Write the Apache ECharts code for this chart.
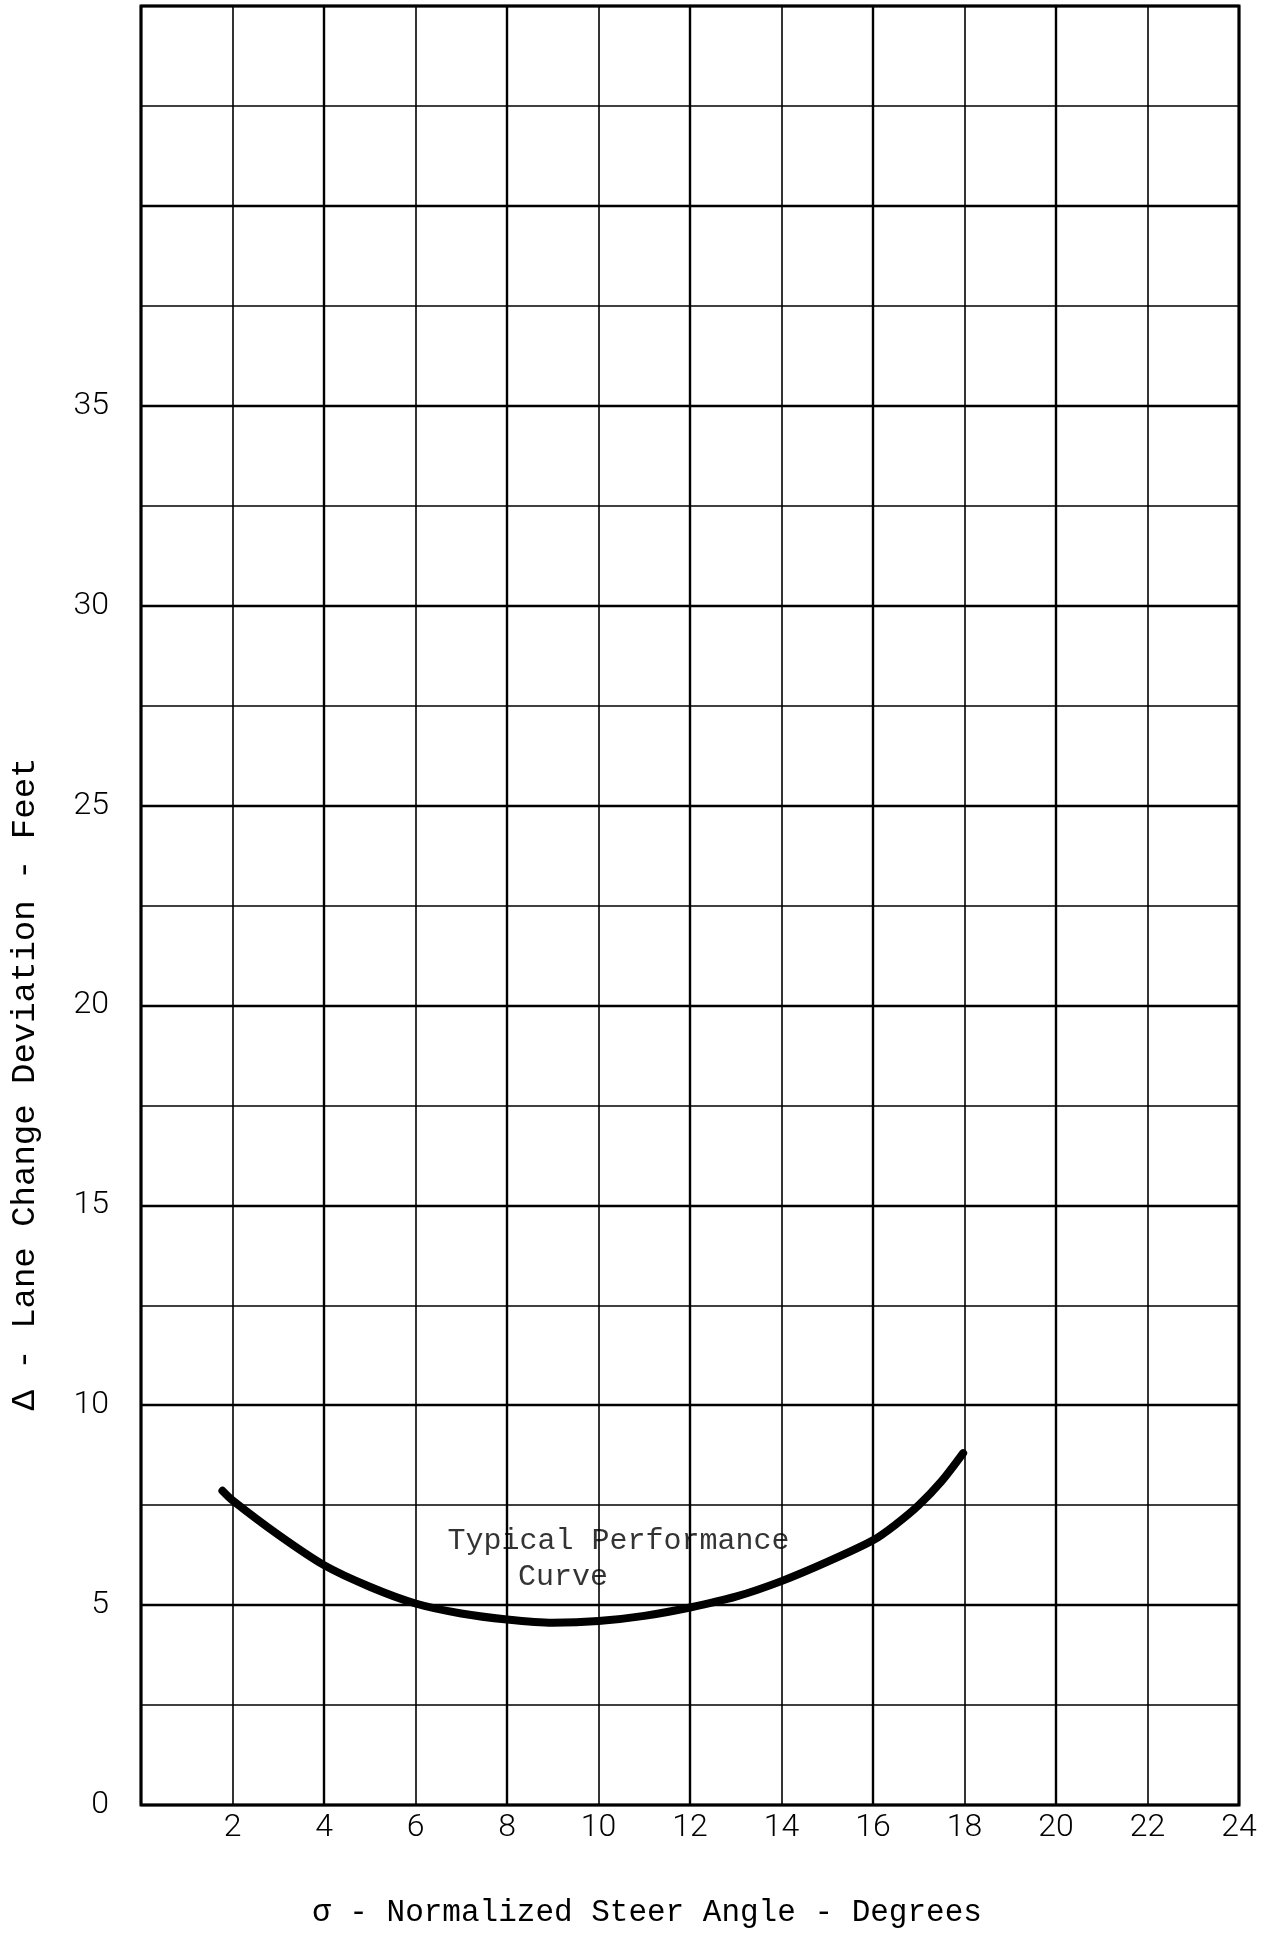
<!DOCTYPE html>
<html>
<head>
<meta charset="utf-8">
<script src="https://cdn.jsdelivr.net/npm/echarts@6/dist/echarts.min.js"></script>
<style>
html,body{margin:0;padding:0;background:#fff;}
#chart{width:1271px;height:1936px;}
</style>
</head>
<body>
<div id="chart"></div>
<script>
// Data
const sigma = [1.78, 2, 3, 4, 5, 6, 7, 8, 9, 10, 11, 12, 13, 14, 15, 16, 16.5, 17, 17.5, 17.97];
const delta = [7.86, 7.62, 6.76, 6.00, 5.46, 5.04, 4.79, 4.64, 4.56, 4.60, 4.73, 4.94, 5.21, 5.60, 6.08, 6.62, 7.02, 7.50, 8.10, 8.80];
const xTicks = [2, 4, 6, 8, 10, 12, 14, 16, 18, 20, 22, 24];
const yTicks = [0, 5, 10, 15, 20, 25, 30, 35];
const annotX = [6.7, 8.24];
const annotY = [6.59, 5.71];
const annotText = ['Typical Performance', 'Curve'];
const xName = 'σ - Normalized Steer Angle - Degrees';
const yName = 'Δ - Lane Change Deviation - Feet';

const chart = echarts.init(document.getElementById('chart'), null, {renderer: 'canvas'});
const tickFont = {fontFamily: 'Roboto, "Liberation Sans", sans-serif', fontWeight: 300, fontSize: 32, color: '#000'};
const monoFont = '"Liberation Mono", "DejaVu Sans Mono", monospace';

chart.setOption({
  animation: false,
  backgroundColor: '#fff',
  grid: {left: 141, right: 32, top: 6, bottom: 131, show: true, borderColor: '#000', borderWidth: 3, backgroundColor: 'transparent'},
  xAxis: [
    {type: 'value', min: 0, max: 24, interval: 2, position: 'bottom',
     axisLine: {show: false}, axisTick: {show: false},
     axisLabel: Object.assign({show: true, margin: 7,
       formatter: v => xTicks.indexOf(v) >= 0 ? String(v) : ''}, tickFont),
     splitLine: {show: true, lineStyle: {color: '#000', width: 1.6}}},
    {type: 'value', min: 0, max: 24, interval: 4, position: 'bottom',
     axisLine: {show: false}, axisTick: {show: false}, axisLabel: {show: false},
     splitLine: {show: true, lineStyle: {color: '#000', width: 2.4}}}
  ],
  yAxis: [
    {type: 'value', min: 0, max: 45, interval: 2.5, position: 'left',
     axisLine: {show: false}, axisTick: {show: false}, axisLabel: {show: false},
     splitLine: {show: true, lineStyle: {color: '#000', width: 1.6}}},
    {type: 'value', min: 0, max: 45, interval: 5, position: 'left',
     axisLine: {show: false}, axisTick: {show: false},
     axisLabel: Object.assign({show: true, margin: 32, verticalAlign: 'middle', padding: [0, 0, 22, 0],
       formatter: v => yTicks.indexOf(v) >= 0 ? String(v) : ''}, tickFont),
     splitLine: {show: true, lineStyle: {color: '#000', width: 2.4}}}
  ],
  series: [
    {type: 'line', name: 'Typical Performance Curve', xAxisIndex: 0, yAxisIndex: 0,
     data: sigma.map((x, i) => [x, delta[i]]), smooth: 0.3, symbol: 'none',
     lineStyle: {color: '#000', width: 8, cap: 'round', join: 'round'}, z: 5},
    {type: 'scatter', xAxisIndex: 0, yAxisIndex: 0, symbolSize: 0, silent: true,
     data: annotX.map((x, i) => [x, annotY[i], annotText[i]]),
     label: {show: true, position: [0, 0], align: 'left', verticalAlign: 'middle',
       formatter: p => p.data[2], fontFamily: monoFont, fontSize: 30, color: '#000'}, z: 6}
  ],
  graphic: [
    {type: 'text', x: 25, y: 1084, rotation: Math.PI / 2,
     style: {text: yName, font: '34px ' + monoFont, fill: '#000', align: 'center', verticalAlign: 'middle'}},
    {type: 'text', x: 647, y: 1913,
     style: {text: xName, font: '31px ' + monoFont, fill: '#000', align: 'center', verticalAlign: 'middle'}}
  ]
});
</script>
</body>
</html>
